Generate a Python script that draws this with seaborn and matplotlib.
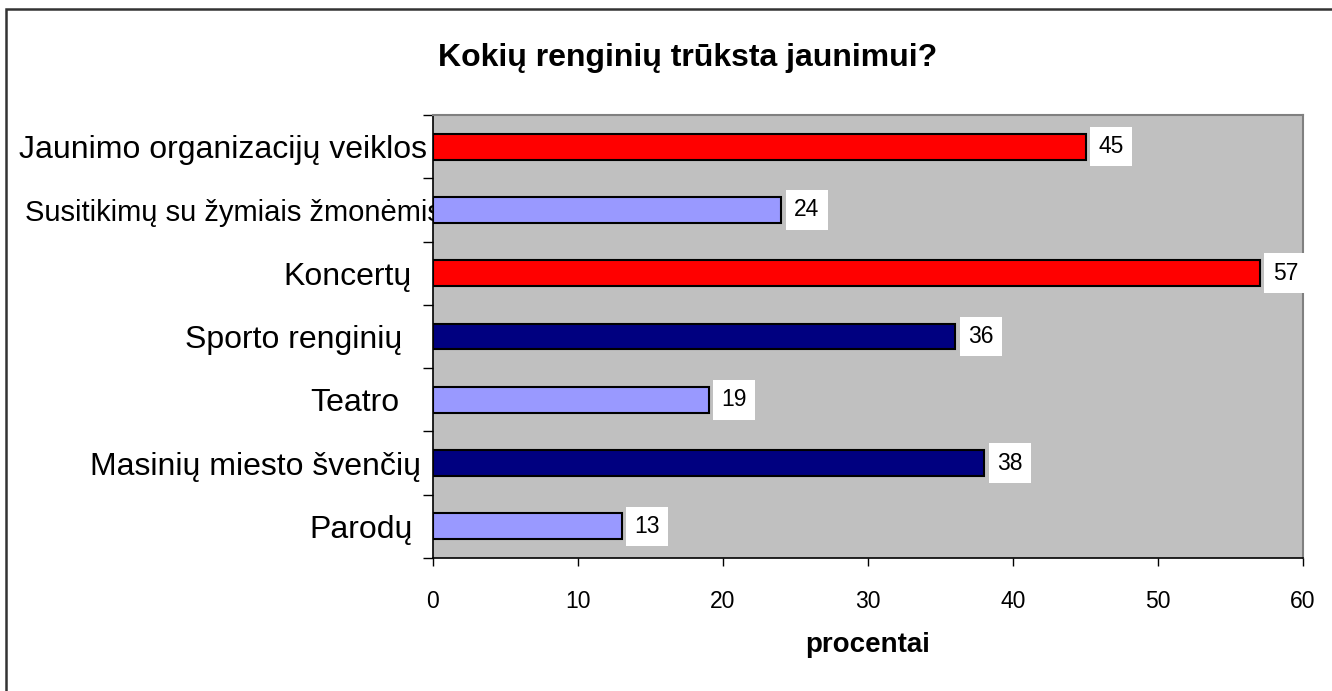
import matplotlib
matplotlib.use('Agg')
import matplotlib.pyplot as plt
import matplotlib.transforms as mtransforms
from matplotlib.patches import Rectangle
import seaborn as sns
import pandas as pd

renginiai = ['Jaunimo organizacijų veiklos', 'Susitikimų su žymiais žmonėmis', 'Koncertų',
             'Sporto renginių', 'Teatro', 'Masinių miesto švenčių', 'Parodų']
procentai = [45, 24, 57, 36, 19, 38, 13]
spalvos = ['#FF0000', '#9999FF', '#FF0000', '#000080', '#9999FF', '#000080', '#9999FF']
x_ticks = [0, 10, 20, 30, 40, 50, 60]

sns.set_theme(style='white')
plt.rcParams['font.family'] = ['Liberation Sans', 'DejaVu Sans']
plt.rcParams['text.color'] = 'black'
plt.rcParams['axes.labelcolor'] = 'black'
plt.rcParams['xtick.color'] = 'black'
plt.rcParams['ytick.color'] = 'black'

df = pd.DataFrame({'renginys': renginiai, 'procentai': procentai})

fig = plt.figure(figsize=(13.32, 6.91), dpi=100)
ax = fig.add_axes([433 / 1332, 1 - 558 / 691, 870 / 1332, 443 / 691])
ax.set_facecolor('#C0C0C0')

sns.barplot(data=df, y='renginys', x='procentai', hue='renginys', palette=spalvos,
            saturation=1, legend=False, width=0.41, edgecolor='black', linewidth=1.5, ax=ax)

ax.set_xlim(0, 60)
ax.set_ylim(6.5, -0.5)
ax.set_xticks(x_ticks)
ax.set_xticklabels([str(t) for t in x_ticks], fontsize=16.5)
ax.tick_params(axis='x', direction='out', length=6, width=1, pad=17, bottom=True)

# kategorijų pavadinimai centre, brūkšneliai tarp kategorijų
ax.set_yticks(range(len(renginiai)))
ax.set_yticklabels(renginiai, fontsize=23)
ax.set_yticks([i - 0.5 for i in range(len(renginiai) + 1)], minor=True)
ax.tick_params(axis='y', which='major', length=0, pad=4)
ax.tick_params(axis='y', which='minor', direction='out', length=7, width=1, left=True)

# atskiri poslinkiai etiketėms (px)
poslinkiai = [0, 14, -16, -25, -28, -6, -15]
dydziai = [23, 21, 23, 23, 23, 23, 23]
for lbl, dx, fs in zip(ax.get_yticklabels(), poslinkiai, dydziai):
    lbl.set_fontsize(fs)
    lbl.set_transform(lbl.get_transform() + mtransforms.ScaledTranslation(dx / 100, 0, fig.dpi_scale_trans))

ax.set_xlabel('procentai', fontsize=20, fontweight='bold', labelpad=14)
ax.set_ylabel('')

for s in ['left', 'bottom']:
    ax.spines[s].set_color('black')
    ax.spines[s].set_linewidth(1.2)
for s in ['top', 'right']:
    ax.spines[s].set_color('#808080')
    ax.spines[s].set_linewidth(1.5)

for i, v in enumerate(procentai):
    ax.annotate(str(v), xy=(v, i), xytext=(9.5, 0), textcoords='offset points',
                va='center', ha='left', fontsize=16.5, color='black',
                bbox=dict(boxstyle='square,pad=0.36', facecolor='white', edgecolor='none'))

fig.text(0.516, 1 - 58 / 691, 'Kokių renginių trūksta jaunimui?', ha='center', va='center',
         fontsize=23, fontweight='bold')

# rėmelis aplink diagramą
fig.patches.append(Rectangle((6 / 1332, -0.1), 1.2, 1 - 9 / 691 + 0.1, transform=fig.transFigure,
                             fill=False, edgecolor='#333333', linewidth=1.8, zorder=10))

fig.savefig('out.png', dpi=100)
